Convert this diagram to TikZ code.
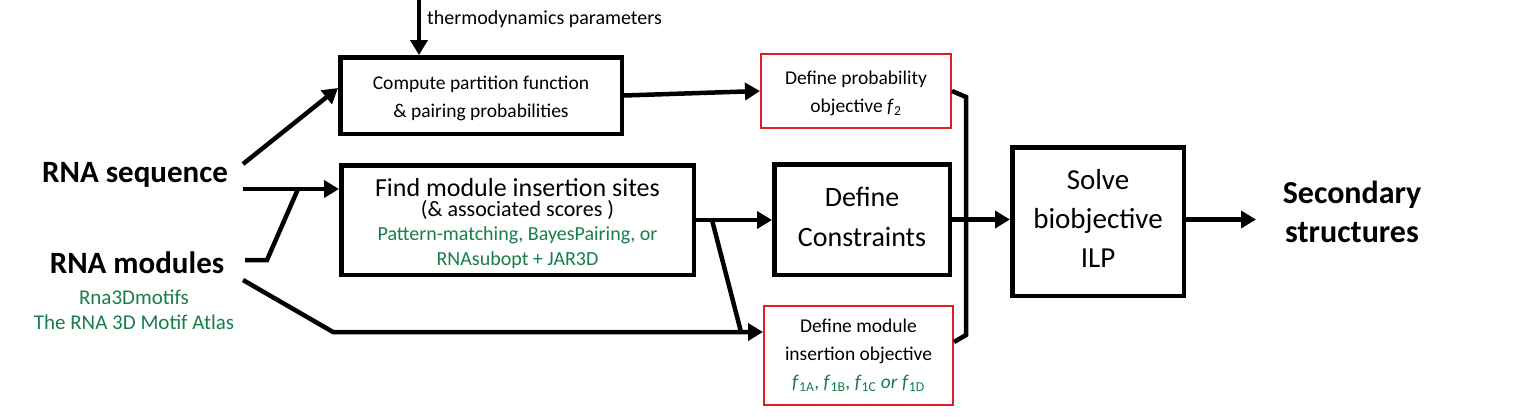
\documentclass[tikz,border=0pt]{standalone}
\usepackage{fontspec}
\setmainfont{Carlito}
\usetikzlibrary{arrows.meta}
\definecolor{srcgreen}{RGB}{24,125,75}
\definecolor{objred}{RGB}{228,28,36}

\begin{document}
\begin{tikzpicture}[x=1pt, y=-1pt,
    bx/.style={rectangle, draw, line width=4.5pt, inner sep=0pt, align=center},
    ob/.style={rectangle, draw=objred, line width=2.2pt, inner sep=0pt, align=center,
               font=\fontsize{19.5}{28}\selectfont},
    e/.style={line width=4.5pt, -{Triangle[length=15pt,width=17pt]}},
    ln/.style={line width=4.5pt},
    big/.style={inner sep=0pt, font=\fontsize{31}{39}\selectfont\bfseries, align=center},
    src/.style={inner sep=0pt, text=srcgreen, font=\fontsize{21}{25}\selectfont, align=center},
  ]
  \useasboundingbox (0,0) rectangle (1516,416);
  % inputs
  \node[big] (seq) at (135,175) {RNA sequence};
  \node[big] (mods) at (137,263) {RNA modules};
  \node[src] (srcs) at (134,310) {Rna3Dmotifs\\The RNA 3D Motif Atlas};
  \node[inner sep=0pt, anchor=west, font=\fontsize{20}{24}\selectfont] (thermo) at (427,19)
    {thermodynamics parameters};
  % boxes
  \node[bx, minimum width=281.5pt, minimum height=76.5pt, font=\fontsize{19.5}{28}\selectfont]
    (comp) at (481,95.5) {\rule{0pt}{20pt}Compute partition function\\\& pairing probabilities};
  \node[bx, minimum width=352.5pt, minimum height=109.5pt, font=\fontsize{20}{25}\selectfont]
    (find) at (517.5,220)
    {{\fontsize{26}{30}\selectfont\rule{0pt}{25pt}Find module insertion sites}\\[-5pt]
     {\fontsize{22}{26}\selectfont (\& associated scores )}\\[-0.5pt]
     \textcolor{srcgreen}{Pattern-matching, BayesPairing, or}\\
     \textcolor{srcgreen}{RNAsubopt + JAR3D}};
  \node[bx, minimum width=175.5pt, minimum height=110.5pt, font=\fontsize{28}{40}\selectfont]
    (cons) at (862,219.5) {Define\\Constraints\rule[-6pt]{0pt}{6pt}};
  \node[ob, minimum width=189.8pt, minimum height=73.8pt] (probobj) at (856,91)
    {\rule{0pt}{18pt}Define probability\\objective \textit{f}\textsubscript{2}};
  \node[ob, minimum width=188.8pt, minimum height=98.8pt] (modobj) at (858.5,355.5)
    {Define module\\insertion objective\\
     \textcolor{srcgreen}{\textit{f}\textsubscript{1A}, \textit{f}\textsubscript{1B},
     \textit{f}\textsubscript{1C} \textit{or} \textit{f}\textsubscript{1D}}};
  \node[bx, minimum width=171.5pt, minimum height=148.5pt, font=\fontsize{29}{39}\selectfont]
    (solve) at (1098,221.5) {Solve\\biobjective\\ILP\rule[-6pt]{0pt}{6pt}};
  \node[big, font=\fontsize{32}{39}\selectfont\bfseries] (sec) at (1352,212)
    {Secondary\\structures};
  % junctions
  \coordinate (tp) at (419,0);
  \coordinate (sq1) at (243,164);
  \coordinate (sq2) at (243,189);
  \coordinate (md1) at (245,260);
  \coordinate (md2) at (267,260);
  \coordinate (jn1) at (298,189);
  \coordinate (md3) at (243,280);
  \coordinate (md4) at (333,332);
  \coordinate (jn2) at (712,220);
  \coordinate (jn3) at (741,332);
  \coordinate (br1) at (966,97);
  \coordinate (br2) at (966,335);
  \coordinate (out) at (1256,219.5);
  % connectors
  \draw[e] (tp) -- (tp |- comp.north);
  \draw[e] (sq1) -- (comp.177);
  \draw[e] (sq2) -- (sq2 -| find.west);
  \draw[ln] (md1) -- (md2) -- (jn1);
  \draw[e] (md3) -- (md4) -- (md4 -| modobj.west);
  \draw[e] (comp.east) -- (probobj.west);
  \draw[e] (find.east |- jn2) -- (jn2 -| cons.west);
  \draw[ln] (jn2) -- (jn3);
  \draw[ln] (probobj.east) -- (br1) -- (br2) -- (modobj.east |- 0,342);
  \draw[e] (cons.east) -- (cons.east -| solve.west);
  \draw[e] (solve.east |- out) -- (out);
\end{tikzpicture}
\end{document}
